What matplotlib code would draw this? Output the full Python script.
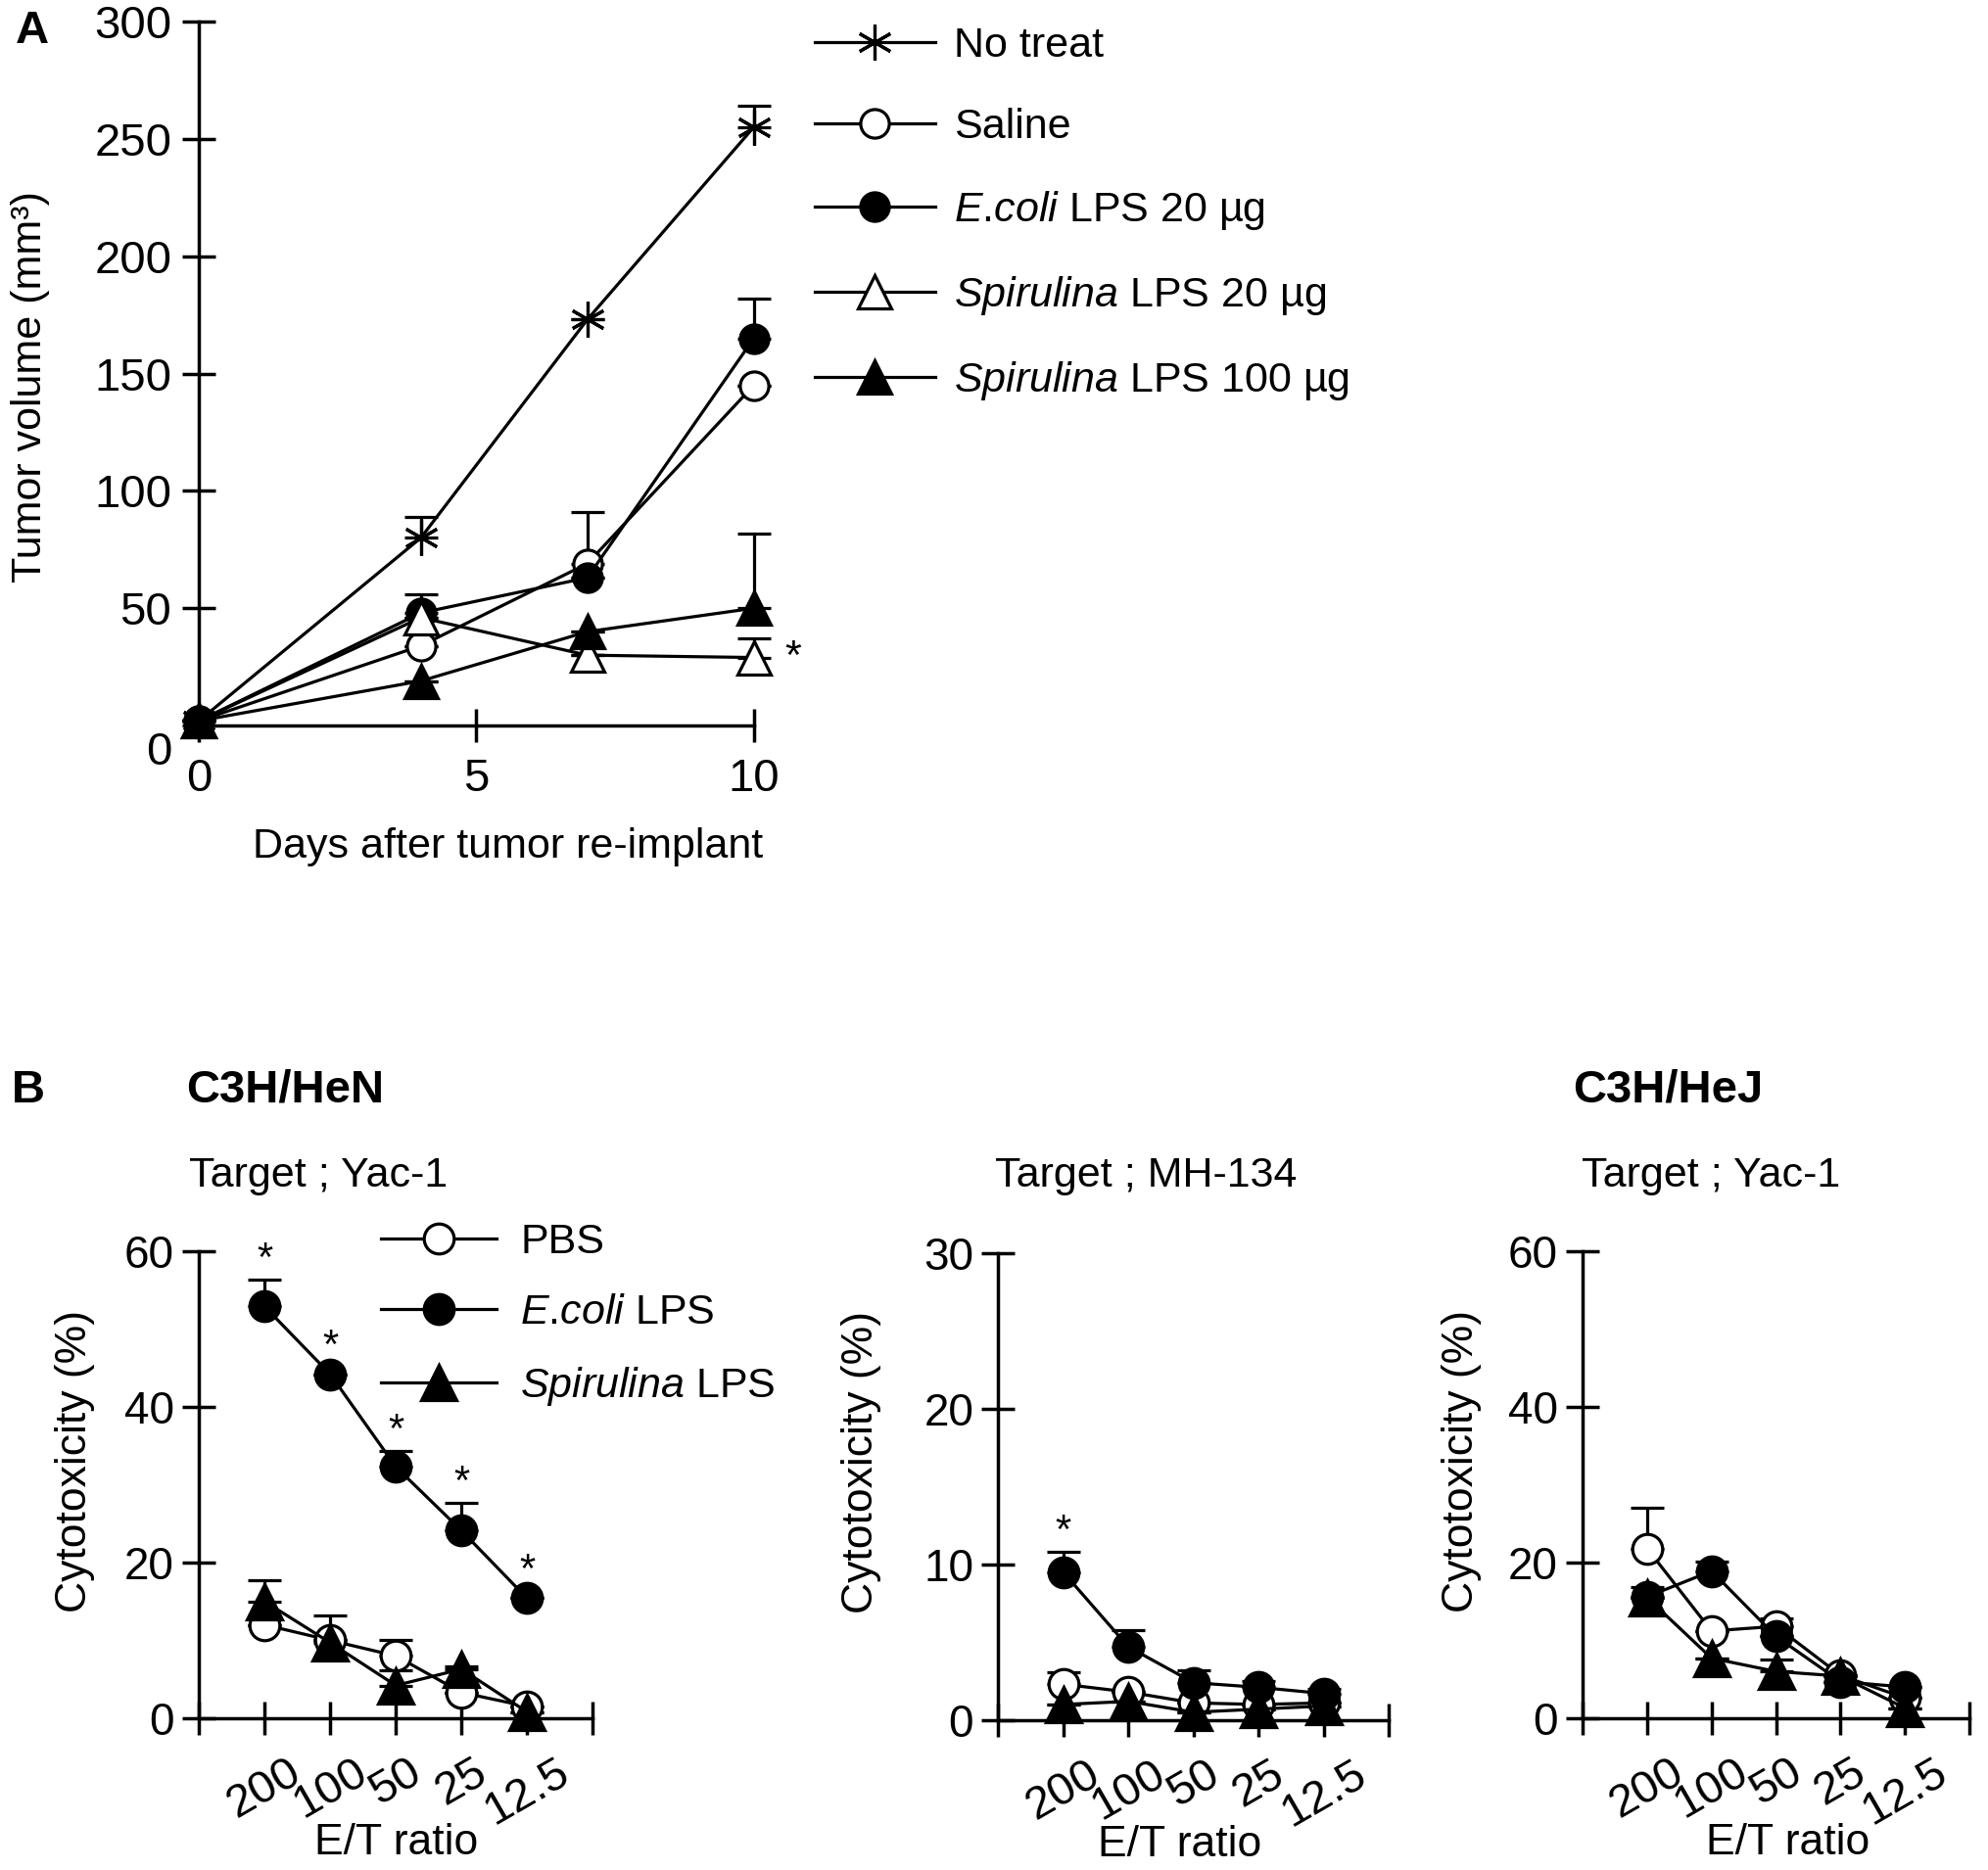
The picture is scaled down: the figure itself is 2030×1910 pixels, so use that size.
import numpy as np
import matplotlib
matplotlib.use("Agg")
import matplotlib.pyplot as plt
from matplotlib.transforms import ScaledTranslation

plt.rcParams['font.family'] = ['Liberation Sans', 'DejaVu Sans']
plt.rcParams['mathtext.fontset'] = 'custom'
plt.rcParams['mathtext.it'] = 'Liberation Sans:italic'
plt.rcParams['mathtext.rm'] = 'Liberation Sans'

# ---- panel A data ----
days = [0, 4, 7, 10]
no_treat = [2, 80, 173, 255]
no_treat_err = [0, 9, 0, 9]
saline = [2, 34, 69, 145]
saline_err = [0, 0, 22, 0]
ecoli20 = [2, 48, 63, 165]
ecoli20_err = [0, 8, 0, 17]
spir20 = [2, 46, 30, 29]
spir20_err = [0, 0, 0, 8]
spir100 = [2, 19, 40, 50]
spir100_err = [0, 0, 0, 32]

# ---- panel B data ----
et_labels = ["200", "100", "50", "25", "12.5"]
pbs_yac = [12.0, 10.0, 8.0, 3.3, 1.5]
pbs_yac_err = [0, 0, 2.1, 0, 0]
ecoli_yac = [52.9, 44.2, 32.3, 24.1, 15.4]
ecoli_yac_err = [3.4, 0, 2.0, 3.6, 0]
spir_yac = [15.0, 9.7, 4.2, 6.3, 0.8]
spir_yac_err = [2.7, 3.5, 1.9, 0.3, 0]
yac_sig = [1, 1, 1, 1, 1]

pbs_mh = [2.3, 1.8, 1.1, 1.0, 1.1]
pbs_mh_err = [0.8, 0, 0, 0, 0]
ecoli_mh = [9.5, 4.7, 2.4, 2.1, 1.7]
ecoli_mh_err = [1.3, 1.1, 0.8, 0.4, 0.3]
spir_mh = [1.0, 1.2, 0.5, 0.7, 0.9]
spir_mh_err = [0, 0, 0, 0, 0]
mh_sig = [1, 0, 0, 0, 0]

pbs_hej = [21.8, 11.2, 11.8, 5.5, 2.6]
pbs_hej_err = [5.2, 0, 1.0, 0, 0]
ecoli_hej = [15.6, 18.9, 10.5, 4.7, 4.0]
ecoli_hej_err = [1.3, 1.2, 0, 0, 0]
spir_hej = [15.5, 7.7, 6.0, 5.4, 1.3]
spir_hej_err = [0, 0, 1.5, 0, 0]

LW = 2.3
SPW = 2.5

fig = plt.figure(figsize=(20.31, 19.10), dpi=100)


def style_axis(ax, fs):
    for s in ['top', 'right']:
        ax.spines[s].set_visible(False)
    for s in ['left', 'bottom']:
        ax.spines[s].set_linewidth(SPW)
    ax.tick_params(direction='inout', length=24, width=SPW, labelsize=fs)


def series(ax, x, y, err, marker, face, ms, label=None):
    ax.errorbar(x, y, yerr=[np.zeros(len(err)), err], fmt='none', ecolor='black',
                elinewidth=LW, capsize=12, capthick=LW, clip_on=False, zorder=2)
    line, = ax.plot(x, y, color='black', lw=LW, marker=marker, ms=ms,
                    mfc=face, mec='black', mew=LW, clip_on=False, zorder=3, label=label)
    return line


# ================= Panel A =================
axA = fig.add_axes([0.100, 0.612, 0.279, 0.3765])
style_axis(axA, 34)
hA = []
hA.append(series(axA, days, no_treat, no_treat_err, (6, 2, 0), 'black', 26, 'No treat'))
hA.append(series(axA, days, saline, saline_err, 'o', 'white', 21, 'Saline'))
hA.append(series(axA, days, ecoli20, ecoli20_err, 'o', 'black', 21, r'$\it{E}$.$\it{coli}$ LPS 20 µg'))
hA.append(series(axA, days, spir20, spir20_err, '^', 'white', 25, r'$\it{Spirulina}$ LPS 20 µg'))
hA.append(series(axA, days, spir100, spir100_err, '^', 'black', 25, r'$\it{Spirulina}$ LPS 100 µg'))
axA.set_xlim(0, 10)
axA.set_ylim(0, 300)
axA.set_xticks([0, 5, 10])
axA.set_yticks([0, 50, 100, 150, 200, 250, 300])
axA.tick_params(axis='x', pad=12)
axA.tick_params(axis='y', pad=8)
lab0 = axA.get_yticklabels()[0]
lab0.set_transform(lab0.get_transform() + ScaledTranslation(0, -0.23, fig.dpi_scale_trans))
axA.set_ylabel('Tumor volume (mm³)', fontsize=31)
axA.yaxis.set_label_coords(-0.268, 0.481)
axA.set_xlabel('Days after tumor re-implant', fontsize=31)
axA.xaxis.set_label_coords(0.556, -0.144)
axA.text(10.7, spir20[-1], '*', fontsize=31, ha='center', va='center')
axA.legend(handles=hA, loc='upper left', bbox_to_anchor=(0.4097, 0.986),
           bbox_transform=fig.transFigure, frameon=False, fontsize=31,
           handlelength=2.85, handletextpad=0.45, labelspacing=1.0, borderpad=0,
           borderaxespad=0)
fig.text(0.016, 0.983, 'A', fontsize=34, fontweight='bold', ha='center', va='center')

# ================= Panel B =================
panels = [
    ([0.100, 0.0812, 0.198, 0.2497], 60, [0, 20, 40, 60],
     (pbs_yac, pbs_yac_err), (ecoli_yac, ecoli_yac_err), (spir_yac, spir_yac_err), yac_sig,
     'Target ; Yac-1', 0.160, (-0.265, 0.55), 0.5),
    ([0.5018, 0.0802, 0.1966, 0.2497], 30, [0, 10, 20, 30],
     (pbs_mh, pbs_mh_err), (ecoli_mh, ecoli_mh_err), (spir_mh, spir_mh_err), mh_sig,
     'Target ; MH-134', 0.576, (-0.299, 0.553), 0.464),
    ([0.7957, 0.0812, 0.1945, 0.2497], 60, [0, 20, 40, 60],
     (pbs_hej, pbs_hej_err), (ecoli_hej, ecoli_hej_err), (spir_hej, spir_hej_err), None,
     'Target ; Yac-1', 0.860, (-0.262, 0.55), 0.53),
]

xpos = np.arange(1, len(et_labels) + 1)
for i, (rect, ymax, yt, pbs, eco, spi, sig, title, tx, ylc, xlc) in enumerate(panels):
    ax = fig.add_axes(rect)
    style_axis(ax, 33)
    hp = series(ax, xpos, pbs[0], pbs[1], 'o', 'white', 22, 'PBS')
    hs = series(ax, xpos, spi[0], spi[1], '^', 'black', 26, r'$\it{Spirulina}$ LPS')
    he = series(ax, xpos, eco[0], eco[1], 'o', 'black', 22, r'$\it{E}$.$\it{coli}$ LPS')
    ax.set_xlim(0, 6)
    ax.set_ylim(0, ymax)
    ax.set_yticks(yt)
    ax.set_xticks(np.arange(0, 7))
    ax.set_xticklabels([''] + et_labels + [''], rotation=30, ha='center', va='top',
                       fontsize=34)
    ax.tick_params(axis='x', pad=12)
    ax.tick_params(axis='y', pad=6)
    ax.set_ylabel('Cytotoxicity (%)', fontsize=32)
    ax.yaxis.set_label_coords(*ylc)
    ax.set_xlabel('E/T ratio', fontsize=32)
    ax.xaxis.set_label_coords(xlc, -0.2255)
    if sig is not None:
        top = np.maximum(np.array(eco[0]) + np.array(eco[1]), np.array(eco[0]) + ymax * 0.015)
        for x, t, s in zip(xpos, top, sig):
            if s:
                ax.annotate('*', (x, t), xytext=(0, 0), textcoords='offset points',
                            ha='center', va='bottom', fontsize=30)
    fig.text(tx, 0.371, title, fontsize=31, ha='center', va='center')
    if i == 0:
        ax.legend(handles=[hp, he, hs], loc='upper left', bbox_to_anchor=(0.1915, 0.346),
                  bbox_transform=fig.transFigure, frameon=False, fontsize=31,
                  handlelength=2.75, handletextpad=0.55, labelspacing=0.75, borderpad=0,
                  borderaxespad=0)

fig.text(0.014, 0.4168, 'B', fontsize=34, fontweight='bold', ha='center', va='center')
fig.text(0.1434, 0.4168, 'C3H/HeN', fontsize=34, fontweight='bold', ha='center', va='center')
fig.text(0.8386, 0.4168, 'C3H/HeJ', fontsize=34, fontweight='bold', ha='center', va='center')

fig.savefig('out.png', dpi=100)
